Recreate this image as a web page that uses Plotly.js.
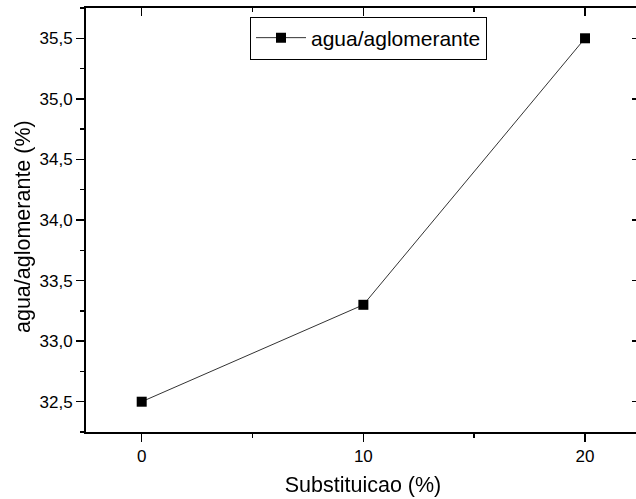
<!DOCTYPE html>
<html>
<head>
<meta charset="utf-8">
<script src="https://cdn.plot.ly/plotly-3.0.1.min.js"></script>
<style>html,body{margin:0;padding:0;background:#fff;overflow:hidden;}#chart{width:641px;height:499px;}</style>
</head>
<body>
<div id="chart"></div>
<script>
const substituicao = [0, 10, 20];
const aguaAglomerante = [32.5, 33.3, 35.5];
const seriesName = "agua/aglomerante";
const xTitle = "Substituicao (%)";
const yTitle = "agua/aglomerante (%)";

const xRange = [-2.513, 22.48];
const yRange = [32.25, 35.75];
const font = "Liberation Sans, Arial, sans-serif";

const data = [
  {
    x: substituicao, y: aguaAglomerante, name: seriesName,
    type: "scatter", mode: "lines+markers",
    line: {color: "#333333", width: 1},
    marker: {symbol: "square", size: 10, color: "#000000"}
  },
  {
    x: substituicao, y: aguaAglomerante, xaxis: "x2", yaxis: "y2",
    type: "scatter", mode: "markers", opacity: 0, showlegend: false, hoverinfo: "skip"
  }
];

const baseAxis = {
  showgrid: false, zeroline: false, showline: true, linecolor: "#000", linewidth: 2,
  tickcolor: "#000", tickwidth: 1.5, ticklen: 8
};

const layout = {
  width: 641, height: 499,
  margin: {l: 86, r: 1, t: 8, b: 67},
  paper_bgcolor: "#fff", plot_bgcolor: "#fff",
  separators: ",.",
  font: {family: font, color: "#000", size: 17},
  showlegend: true,
  legend: {
    x: (250 - 86) / 554, y: (432 - 38) / 424, xanchor: "left", yanchor: "middle",
    bordercolor: "#000", borderwidth: 1, bgcolor: "#fff",
    font: {size: 21, family: font}, itemwidth: 50, tracegroupgap: 0
  },
  xaxis: Object.assign({}, baseAxis, {
    range: xRange, ticks: "outside", tickmode: "linear", tick0: 0, dtick: 10,
    tickfont: {size: 17},
    minor: {ticks: "outside", dtick: 5, tick0: 0, ticklen: 4, tickwidth: 1.5, tickcolor: "#000", showgrid: false},
    title: {text: xTitle, font: {size: 21.5}, standoff: 12}
  }),
  yaxis: Object.assign({}, baseAxis, {
    range: yRange, ticks: "outside", tickmode: "linear", tick0: 32.5, dtick: 0.5,
    tickformat: ".1f", tickfont: {size: 17},
    minor: {ticks: "outside", dtick: 0.25, tick0: 32.5, ticklen: 4, tickwidth: 1.5, tickcolor: "#000", showgrid: false}
  }),
  xaxis2: Object.assign({}, baseAxis, {
    overlaying: "x", side: "top", range: xRange, ticks: "inside", tickmode: "linear", tick0: 0, dtick: 10,
    showticklabels: false,
    minor: {ticks: "inside", dtick: 5, tick0: 0, ticklen: 4, tickwidth: 1.5, tickcolor: "#000", showgrid: false}
  }),
  yaxis2: Object.assign({}, baseAxis, {
    overlaying: "y", side: "right", range: yRange, ticks: "inside", tickmode: "linear", tick0: 32.5, dtick: 0.5,
    showticklabels: false,
    minor: {ticks: "inside", dtick: 0.25, tick0: 32.5, ticklen: 4, tickwidth: 1.5, tickcolor: "#000", showgrid: false}
  }),
  annotations: [{
    text: yTitle, textangle: -90, showarrow: false,
    xref: "paper", yref: "paper", x: 0, y: 0.5, xanchor: "center", yanchor: "middle",
    xshift: -63, yshift: -7, font: {size: 21.5, family: font, color: "#000"}
  }]
};

Plotly.newPlot("chart", data, layout, {displayModeBar: false, staticPlot: true});
</script>
</body>
</html>
